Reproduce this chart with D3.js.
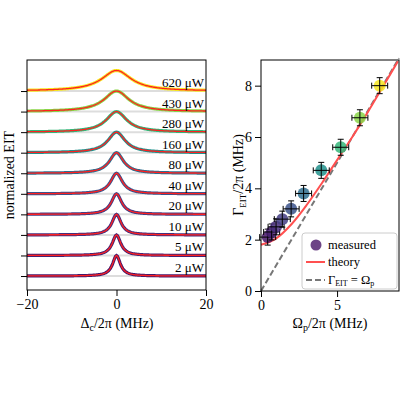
<!DOCTYPE html><html><head><script src="https://cdn.jsdelivr.net/npm/d3@7"></script>
<style>body{margin:0;background:#fff}text{font-family:"Liberation Serif","DejaVu Serif",serif}</style></head><body>
<svg id="c" width="400" height="400"></svg>
<script>
const powers=[2,5,10,20,40,80,160,280,430,620];
const powerLabels=["2 μW","5 μW","10 μW","20 μW","40 μW","80 μW","160 μW","280 μW","430 μW","620 μW"];
const rabi=[0.44,0.70,0.99,1.40,1.98,2.80,3.96,5.24,6.50,7.80];
const gammaEIT=[2.1,2.3,2.5,2.8,3.2,3.8,4.7,5.6,6.75,8.0];
const theoryX=[0,1,2,3,4,5,6,7,8,9];
const theoryY=[1.8,2.05,2.6,3.35,4.2,5.1,6.0,6.95,7.95,8.95];
const FF="Liberation Serif";
const svg=d3.select("#c");
const col=i=>d3.interpolateViridis(Math.min(1,rabi[i]/7.9));
// left panel
const xL=d3.scaleLinear([-20,20],[27,206]);
const yL=d3.scaleLinear([-0.68,10.51],[290,60]);
const det=d3.range(-20,20.01,0.2);
const gL=svg.append("g");
powers.forEach((p,i)=>{
  gL.append("line").attr("x1",27).attr("x2",206).attr("y1",yL(i)).attr("y2",yL(i)).attr("stroke","#ddd").attr("stroke-width",2);
});
powers.forEach((p,i)=>{
  const w=gammaEIT[i]/2;
  const f=d=>i+1/(1+(d/w)**2);
  const ln=d3.line().x(d=>xL(d)).y(d=>yL(f(d)));
  gL.append("path").attr("d",ln(det)).attr("fill","none").attr("stroke",col(i)).attr("stroke-width",3.2);
  gL.append("path").attr("d",ln(det)).attr("fill","none").attr("stroke","#ff2020").attr("stroke-width",1.3);
  gL.append("text").attr("x",204).attr("y",yL(i)-4).attr("text-anchor","end").attr("font-size",13).text(powerLabels[i]);
});
gL.append("rect").attr("x",27).attr("y",60).attr("width",179).attr("height",230).attr("fill","none").attr("stroke","#000");
gL.append("g").attr("transform","translate(0,290)").call(d3.axisBottom(xL).tickValues([-20,0,20]).tickFormat(d=>d<0?"−"+(-d):d).tickSizeOuter(0))
  .call(g=>{g.select(".domain").remove();g.selectAll("text").attr("font-size",14).attr("font-family",FF).attr("fill","#000");});
gL.append("g").attr("transform","translate(27,0)").call(d3.axisLeft(yL).tickValues(d3.range(10)).tickFormat("").tickSizeOuter(0)).call(g=>g.select(".domain").remove());
svg.append("text").attr("transform","translate(14,175) rotate(-90)").attr("text-anchor","middle").attr("font-size",14).text("normalized EIT");
svg.append("text").attr("x",117).attr("y",328).attr("text-anchor","middle").attr("font-size",14).html('Δ<tspan font-size="10" dy="3">c</tspan><tspan dy="-3">/2π (MHz)</tspan>');
// right panel
const xR=d3.scaleLinear([0,9.07],[261,399]);
const yR=d3.scaleLinear([0,9.0],[291,60]);
const gR=svg.append("g");
gR.append("path").attr("d",d3.line()([[xR(0),yR(0)],[xR(9.07),yR(9.07)]])).attr("stroke","#777").attr("stroke-width",2).attr("stroke-dasharray","6,3");
gR.append("path").attr("d",d3.line().x(d=>xR(d[0])).y(d=>yR(d[1])).curve(d3.curveMonotoneX)(theoryX.map((x,i)=>[x,theoryY[i]]))).attr("fill","none").attr("stroke","#ff5050").attr("stroke-width",2);
rabi.forEach((r,i)=>{
  const cx=xR(r),cy=yR(gammaEIT[i]),e=8;
  gR.append("circle").attr("cx",cx).attr("cy",cy).attr("r",6).attr("fill",col(i)).attr("opacity",0.85);
  const g=gR.append("g").attr("stroke","#000").attr("stroke-width",1);
  g.append("line").attr("x1",cx-e).attr("x2",cx+e).attr("y1",cy).attr("y2",cy);
  g.append("line").attr("x1",cx).attr("x2",cx).attr("y1",cy-e).attr("y2",cy+e);
  [[cx-e,cy-3,cx-e,cy+3],[cx+e,cy-3,cx+e,cy+3],[cx-3,cy-e,cx+3,cy-e],[cx-3,cy+e,cx+3,cy+e]].forEach(a=>g.append("line").attr("x1",a[0]).attr("y1",a[1]).attr("x2",a[2]).attr("y2",a[3]));
});
gR.append("rect").attr("x",261).attr("y",60).attr("width",138).attr("height",231).attr("fill","none").attr("stroke","#000");
gR.append("g").attr("transform","translate(0,291)").call(d3.axisBottom(xR).tickValues([0,5]).tickSizeOuter(0))
  .call(g=>{g.select(".domain").remove();g.selectAll("text").attr("font-size",14).attr("font-family",FF).attr("fill","#000");});
gR.append("g").attr("transform","translate(261,0)").call(d3.axisLeft(yR).tickValues([0,2,4,6,8]).tickSizeOuter(0))
  .call(g=>{g.select(".domain").remove();g.selectAll("text").attr("font-size",14).attr("font-family",FF).attr("fill","#000");});
svg.append("text").attr("transform","translate(243,175) rotate(-90)").attr("text-anchor","middle").attr("font-size",14).html('Γ<tspan font-size="9" dy="3">EIT</tspan><tspan dy="-3">/2π (MHz)</tspan>');
svg.append("text").attr("x",330).attr("y",328).attr("text-anchor","middle").attr("font-size",14).html('Ω<tspan font-size="10" dy="3">p</tspan><tspan dy="-3">/2π (MHz)</tspan>');
// legend
const lg=svg.append("g");
lg.append("rect").attr("x",302).attr("y",233).attr("width",95).attr("height",56).attr("rx",3).attr("fill","#fff").attr("fill-opacity",0.85).attr("stroke","#ccc");
lg.append("circle").attr("cx",316).attr("cy",245).attr("r",5.5).attr("fill",col(0)).attr("opacity",0.8);
lg.append("text").attr("x",328).attr("y",249).attr("font-size",12.5).text("measured");
lg.append("line").attr("x1",306).attr("x2",325).attr("y1",262).attr("y2",262).attr("stroke","#ff5050").attr("stroke-width",2);
lg.append("text").attr("x",328).attr("y",266).attr("font-size",12.5).text("theory");
lg.append("line").attr("x1",306).attr("x2",325).attr("y1",280).attr("y2",280).attr("stroke","#777").attr("stroke-width",2).attr("stroke-dasharray","6,3");
lg.append("text").attr("x",328).attr("y",284).attr("font-size",12.5).html('Γ<tspan font-size="8" dy="2">EIT</tspan><tspan dy="-2"> = Ω</tspan><tspan font-size="8" dy="2">p</tspan>');
</script></body></html>
